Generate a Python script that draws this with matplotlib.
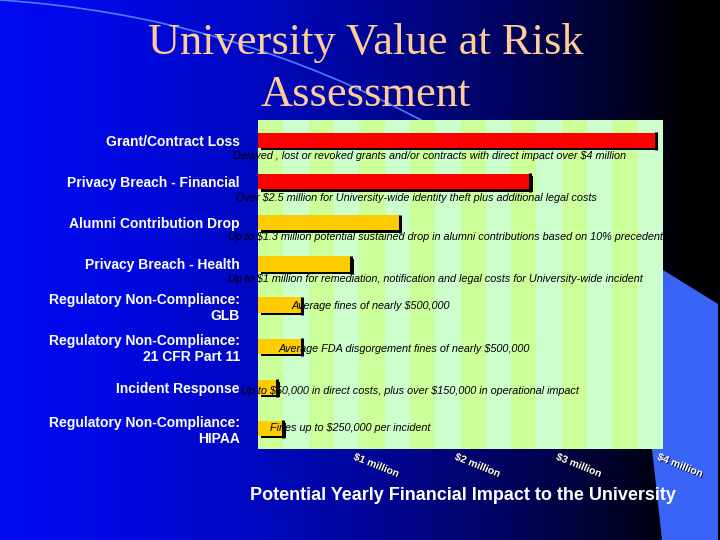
import numpy as np
import matplotlib
matplotlib.use('Agg')
import matplotlib.pyplot as plt
import matplotlib.patheffects as pe
import matplotlib.transforms as mtrans
from matplotlib.patches import Polygon, PathPatch
from matplotlib.path import Path

plt.rcParams['font.family'] = ['Liberation Sans', 'DejaVu Sans']
plt.rcParams['text.parse_math'] = False

# data: potential yearly impact, $ million
categories = ['Grant/Contract Loss',
              'Privacy Breach - Financial',
              'Alumni Contribution Drop',
              'Privacy Breach - Health',
              'Regulatory Non-Compliance:\nGLB',
              'Regulatory Non-Compliance:\n21 CFR Part 11',
              'Incident Response',
              'Regulatory Non-Compliance:\nHIPAA']
impact = [3.93, 2.69, 1.40, 0.92, 0.43, 0.43, 0.19, 0.25]
level = ['high', 'high', 'medium', 'medium', 'medium', 'medium', 'medium', 'medium']
notes = ['Delayed , lost or revoked grants and/or contracts with direct impact over $4 million',
         'Over $2.5 million for University-wide identity theft plus additional legal costs',
         'Up to $1.3 million potential sustained drop in alumni contributions based on 10% precedent',
         'Up to $1 million for remediation, notification and legal costs for University-wide incident',
         'Average fines of nearly $500,000',
         'Average FDA disgorgement fines of nearly $500,000',
         'Up to $50,000 in direct costs, plus over $150,000 in operational impact',
         'Fines up to $250,000 per incident']
tick_values = [1, 2, 3, 4]
tick_labels = ['$1 million', '$2 million', '$3 million', '$4 million']

# layout / style
level_color = {'high': '#ff0000', 'medium': '#ffcc00'}
note_x = [-0.25, -0.22, -0.30, -0.30, 0.33, 0.20, -0.17, 0.12]
note_dy = [0.37, 0.40, 0.35, 0.36, 0.02, 0.08, 0.1, 0.0]

fig = plt.figure(figsize=(7.2, 5.4), dpi=100)

# background
bg = fig.add_axes([0, 0, 1, 1])
bg.set_xlim(0, 720)
bg.set_ylim(540, 0)
bg.axis('off')
xx = np.linspace(0, 1, 720)
blue = 240 * np.clip(1 - (xx * 720 / 690) ** 1.6, 0, 1)
grad = np.zeros((2, 720, 3))
grad[:, :, 2] = blue / 255
grad[:, :, 1] = blue / 255 * 0.04
bg.imshow(grad, extent=(0, 720, 540, 0), aspect='auto', zorder=0)
bg.add_patch(Polygon([(663, 270), (718, 304), (718, 540), (662, 540),
                      (656, 485), (652, 449), (652, 300)],
                     closed=True, facecolor='#3a64f5', edgecolor='none', zorder=1))
arc = Path([(0, 0), (230, 15), (430, 125)], [Path.MOVETO, Path.CURVE3, Path.CURVE3])
bg.add_patch(PathPatch(arc, facecolor='none', edgecolor='#4d7dff', lw=1.2, zorder=1))

fig.text(366 / 720, 1 - 54 / 540, 'University Value at Risk', ha='center', va='baseline',
         family='Liberation Serif', fontsize=32, color='#ffcc99')
fig.text(366 / 720, 1 - 106 / 540, 'Assessment', ha='center', va='baseline',
         family='Liberation Serif', fontsize=32, color='#ffcc99')

ax = fig.add_axes([258 / 720, 91 / 540, 405 / 720, 329 / 540])
ax.set_facecolor('none')
ax.set_xlim(0, 4)
ax.set_ylim(len(categories) - 0.5, -0.5)
for i in range(16):
    ax.axvspan(i * 0.25, (i + 1) * 0.25, color='#ccff99' if i % 2 == 0 else '#ccffcc',
               lw=0, zorder=0)

y = np.arange(len(categories))
bars = ax.barh(y, impact, height=0.37, color=[level_color[l] for l in level], zorder=2)
for b in bars:
    b.set_path_effects([pe.SimplePatchShadow(offset=(1.8, -1.6), shadow_rgbFace='black', alpha=1),
                        pe.Normal()])
ax.vlines(impact, y - 0.2, y + 0.24, color='black', lw=2.2, zorder=4)

for i, txt in enumerate(notes):
    ax.text(note_x[i], y[i] + note_dy[i], txt, ha='left', va='center', fontsize=7.8,
            style='italic', color='black', zorder=3)

ax.set_yticks(y, categories, fontsize=10, fontweight='bold', color='white')
ax.tick_params(axis='y', length=0, pad=13)
ax.set_xticks(tick_values, tick_labels, rotation=-22, ha='left', va='top', fontsize=7.5,
              fontweight='bold', color='white')
ax.tick_params(axis='x', length=0, pad=2)
shift = mtrans.ScaledTranslation(-0.07, 0, fig.dpi_scale_trans)
for lab in ax.get_xticklabels():
    lab.set_transform(lab.get_transform() + shift)
    lab.set_path_effects([pe.withSimplePatchShadow(offset=(0.7, -0.7), shadow_rgbFace='black', alpha=0.8)])
for s in ax.spines.values():
    s.set_visible(False)

fig.text(463 / 720, 1 - 495 / 540, 'Potential Yearly Financial Impact to the University',
         ha='center', va='center', fontsize=13, fontweight='bold', color='white')

fig.savefig('out.png', dpi=100)
